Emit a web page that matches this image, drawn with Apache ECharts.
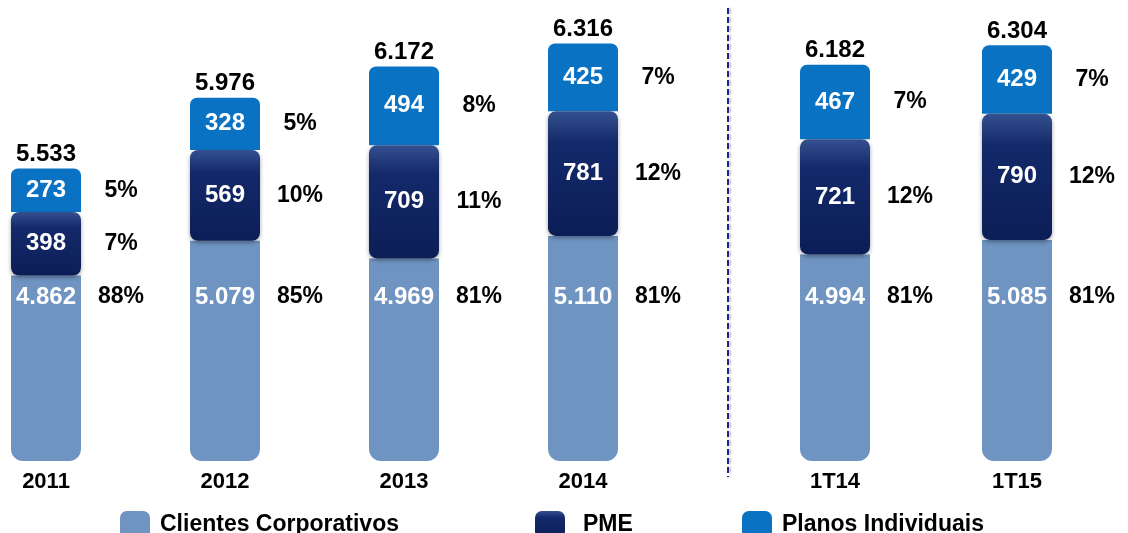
<!DOCTYPE html>
<html><head><meta charset="utf-8">
<script src="https://cdn.jsdelivr.net/npm/echarts@6/dist/echarts.min.js"></script>
<style>html,body{margin:0;padding:0;background:#fff}#c{width:1128px;height:533px}</style>
</head><body><div id="c"></div>
<script>
const categories = ['2011', '2012', '2013', '2014', '1T14', '1T15'];
const corporativos = [4862, 5079, 4969, 5110, 4994, 5085];
const pme = [398, 569, 709, 781, 721, 790];
const individuais = [273, 328, 494, 425, 467, 429];
const pctCorporativos = ['88%', '85%', '81%', '81%', '81%', '81%'];
const pctPme = ['7%', '10%', '11%', '12%', '12%', '12%'];
const pctIndividuais = ['5%', '5%', '8%', '7%', '7%', '7%'];
const seriesNames = ['Clientes Corporativos', 'PME', 'Planos Individuais'];
const groupSplit = 4; // annual values | quarterly values

const FONT = 'Liberation Sans, Arial, sans-serif';
const fmt = n => String(n).replace(/\B(?=(\d{3})+(?!\d))/g, '.');
const totals = categories.map((_, i) => corporativos[i] + pme[i] + individuais[i]);

const colCorp = '#6F94C2';
const colPme = new echarts.graphic.LinearGradient(0, 0, 0, 1, [
  {offset: 0, color: '#34508F'}, {offset: 0.25, color: '#14296A'}, {offset: 1, color: '#0B1E57'}]);
const colInd = '#0A72C2';

const rich = {
  s: {width: 80, align: 'left', fontSize: 23},
  v: {width: 70, align: 'center', color: '#fff', fontSize: 24, fontWeight: 'bold', fontFamily: FONT},
  p: {width: 80, align: 'center', color: '#000', fontSize: 23, fontWeight: 'bold', fontFamily: FONT}
};

function labelFor(values, pcts, offset, extra) {
  return Object.assign({
    show: true,
    position: 'inside',
    textBorderWidth: 0,
    formatter: p => `{s| }{v|${fmt(values[p.dataIndex + offset])}}{p|${pcts[p.dataIndex + offset]}}`,
    rich: rich
  }, extra || {});
}

const ranges = [[0, groupSplit], [groupSplit, categories.length]];
const series = [];
ranges.forEach((r, g) => {
  const off = r[0];
  const common = {type: 'bar', xAxisIndex: g, yAxisIndex: g, stack: 'st' + g, barWidth: 70, barGap: '-100%'};
  series.push(Object.assign({}, common, {
    name: seriesNames[0],
    data: corporativos.slice(r[0], r[1]),
    itemStyle: {color: colCorp, borderRadius: [0, 0, 12, 12]},
    label: labelFor(corporativos, pctCorporativos, off, {position: 'insideBottom', distance: 152})
  }));
  series.push(Object.assign({}, common, {
    name: seriesNames[1],
    data: pme.slice(r[0], r[1]),
    z: 3,
    itemStyle: {color: colPme, borderRadius: 8, shadowColor: 'rgba(0,0,0,0.35)', shadowBlur: 4, shadowOffsetY: 2},
    label: labelFor(pme, pctPme, off)
  }));
  series.push(Object.assign({}, common, {
    name: seriesNames[2],
    data: individuais.slice(r[0], r[1]),
    z: 2,
    itemStyle: {color: colInd, borderRadius: [7, 7, 0, 0]},
    label: labelFor(individuais, pctIndividuais, off)
  }));
  series.push({
    type: 'bar', name: 'Total', xAxisIndex: g, yAxisIndex: g, barWidth: 70, barGap: '-100%',
    silent: true, z: 4,
    data: totals.slice(r[0], r[1]),
    itemStyle: {color: 'rgba(0,0,0,0)'},
    label: {show: true, position: 'top', distance: 2, color: '#000', fontSize: 24, fontWeight: 'bold',
      fontFamily: FONT, formatter: p => fmt(p.value)}
  });
});

const grids = [
  {left: 46, width: 537, top: 22, bottom: 72},
  {left: 835, width: 182, top: 22, bottom: 72}
];
const xAxes = ranges.map((r, g) => ({
  type: 'category', gridIndex: g, boundaryGap: false,
  data: categories.slice(r[0], r[1]),
  axisLine: {show: false}, axisTick: {show: false}, splitLine: {show: false},
  axisLabel: {color: '#000', fontSize: 22, fontWeight: 'bold', fontFamily: FONT, margin: 10}
}));
const yAxes = ranges.map((r, g) => ({
  type: 'value', gridIndex: g, min: 3700, max: 6450, show: false, splitLine: {show: false}
}));

const legendBase = {
  orient: 'horizontal', top: 506, itemWidth: 30, itemHeight: 27, icon: 'roundRect', selectedMode: false,
  textStyle: {color: '#000', fontSize: 23, fontWeight: 'bold', fontFamily: FONT, padding: [0, 0, 0, 5]}
};
const legends = [
  Object.assign({}, legendBase, {left: 115, data: [seriesNames[0]]}),
  Object.assign({}, legendBase, {left: 530, data: [seriesNames[1]], textStyle: Object.assign({}, legendBase.textStyle, {padding: [0, 0, 0, 13]})}),
  Object.assign({}, legendBase, {left: 737, data: [seriesNames[2]]})
];

const chart = echarts.init(document.getElementById('c'), null, {renderer: 'canvas'});
chart.setOption({
  animation: false,
  backgroundColor: '#fff',
  grid: grids,
  xAxis: xAxes,
  yAxis: yAxes,
  legend: legends,
  series: series,
  graphic: [{
    type: 'line', silent: true,
    shape: {x1: 728, y1: 8, x2: 728, y2: 477},
    style: {stroke: '#1E238F', lineWidth: 2, lineDash: [6, 3], shadowColor: 'rgba(0,0,0,0.25)', shadowBlur: 2, shadowOffsetX: 2}
  }]
});
</script>
</body></html>
